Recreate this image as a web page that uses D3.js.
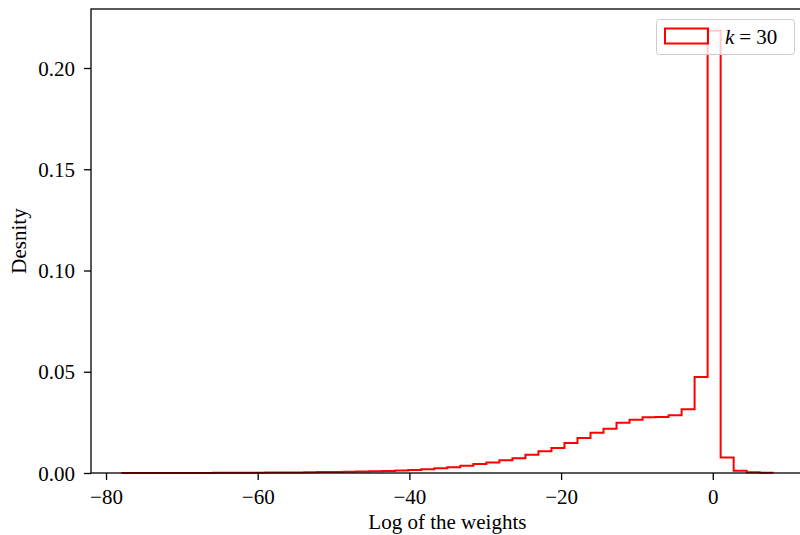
<!DOCTYPE html>
<html>
<head>
<meta charset="utf-8">
<script src="https://cdn.jsdelivr.net/npm/d3@7"></script>
<style>
  body { margin: 0; background: #fff; }
  svg { display: block; }
  svg text { font-family: "Liberation Serif", "DejaVu Serif", serif; }
</style>
</head>
<body>
<div id="chart"></div>
<script>
// ==============================
// DATA
// ==============================

// histogram of log-weights, 50 equal bins
const binStart = -77.9;
const binWidth = 1.716;
const density = [
  0.00002, 0.00002, 0.00003, 0.00003, 0.00004, 0.00005, 0.00006, 0.00008, 0.0001, 0.00012,
  0.00015, 0.00019, 0.00024, 0.0003, 0.00036, 0.00044, 0.00052, 0.00062, 0.00074, 0.00088,
  0.0010, 0.0012, 0.0015, 0.0019, 0.0023, 0.0029, 0.0036, 0.0044, 0.0052, 0.0063,
  0.0073, 0.0090, 0.0108, 0.0123, 0.0148, 0.0173, 0.0199, 0.0219, 0.0248, 0.0263,
  0.0275, 0.0277, 0.0285, 0.0315, 0.0474, 0.2184, 0.0077, 0.0011, 0.0004, 0.0001
];

const xTicks = [-80, -60, -40, -20, 0];
const yTicks = [0, 0.05, 0.10, 0.15, 0.20];
const legendLabel = "30";

// ==============================
// SVG SETUP
// ==============================

const width = 800;
const height = 535;
const plot = { left: 91, right: 803.8, top: 9, bottom: 473 };
const fontSize = "21px";

const svg = d3.select("#chart")
  .append("svg")
  .attr("width", width)
  .attr("height", height);

const x = d3.scaleLinear()
  .domain([-81.98, 12])
  .range([plot.left, plot.right]);

const y = d3.scaleLinear()
  .domain([0, 0.22914])
  .range([plot.bottom, plot.top]);

// ==============================
// STEP HISTOGRAM
// ==============================

// outline: up from the first edge, across each bin, down at the last edge
const pts = [[binStart, 0]];
density.forEach((d, i) => {
  pts.push([binStart + i * binWidth, d]);
  pts.push([binStart + (i + 1) * binWidth, d]);
});
pts.push([binStart + density.length * binWidth, 0]);

svg.append("path")
  .attr("d", d3.line().x(d => x(d[0])).y(d => y(d[1]))(pts))
  .attr("fill", "none")
  .attr("stroke", "#ff0000")
  .attr("stroke-width", 2)
  .attr("stroke-linejoin", "miter");

// ==============================
// AXES
// ==============================

const xAxis = svg.append("g")
  .attr("transform", `translate(0,${plot.bottom})`)
  .call(d3.axisBottom(x).tickValues(xTicks).tickSize(7).tickFormat(d3.format("d")));

xAxis.attr("font-family", null).attr("font-size", null);
xAxis.select(".domain").remove();
xAxis.selectAll("line").attr("stroke", "#000").attr("stroke-width", 1.3);
xAxis.selectAll("text")
  .attr("y", 31)
  .attr("dy", 0)
  .attr("fill", "#000")
  .style("font-size", fontSize);

const yAxis = svg.append("g")
  .attr("transform", `translate(${plot.left},0)`)
  .call(d3.axisLeft(y).tickValues(yTicks).tickSize(7).tickFormat(d3.format(".2f")));

yAxis.attr("font-family", null).attr("font-size", null);
yAxis.select(".domain").remove();
yAxis.selectAll("line").attr("stroke", "#000").attr("stroke-width", 1.3);
yAxis.selectAll("text")
  .attr("x", -16)
  .attr("dy", "0.34em")
  .attr("fill", "#000")
  .style("font-size", fontSize);

// spines (right one falls outside the window)
svg.append("rect")
  .attr("x", plot.left)
  .attr("y", plot.top)
  .attr("width", plot.right - plot.left)
  .attr("height", plot.bottom - plot.top)
  .attr("fill", "none")
  .attr("stroke", "#000")
  .attr("stroke-width", 1.3);

// axis labels
svg.append("text")
  .attr("x", (plot.left + plot.right) / 2)
  .attr("y", 529)
  .attr("text-anchor", "middle")
  .style("font-size", fontSize)
  .text("Log of the weights");

svg.append("text")
  .attr("transform", `translate(26,${(plot.top + plot.bottom) / 2}) rotate(-90)`)
  .attr("text-anchor", "middle")
  .style("font-size", fontSize)
  .text("Desnity");

// ==============================
// LEGEND
// ==============================

const legend = svg.append("g");

legend.append("rect")
  .attr("x", 656.5)
  .attr("y", 19.5)
  .attr("width", 138)
  .attr("height", 35)
  .attr("rx", 3)
  .attr("fill", "#fff")
  .attr("fill-opacity", 0.8)
  .attr("stroke", "#cccccc")
  .attr("stroke-width", 1);

legend.append("rect")
  .attr("x", 665)
  .attr("y", 28.5)
  .attr("width", 43)
  .attr("height", 15)
  .attr("fill", "none")
  .attr("stroke", "#ff0000")
  .attr("stroke-width", 2);

const lt = legend.append("text")
  .attr("x", 725)
  .attr("y", 43.5)
  .style("font-size", fontSize);
lt.append("tspan").style("font-style", "italic").text("k");
lt.append("tspan").attr("dx", 5).text("=");
lt.append("tspan").attr("dx", 5).text(legendLabel);
</script>
</body>
</html>
